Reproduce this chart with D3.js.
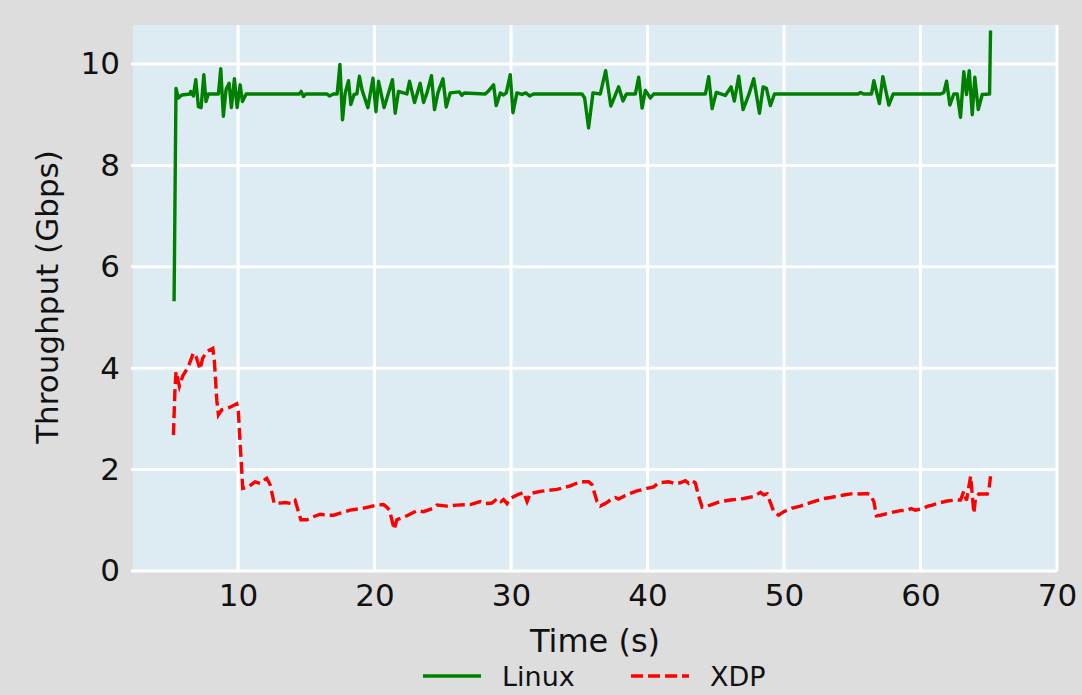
<!DOCTYPE html>
<html>
<head>
<meta charset="utf-8">
<script src="https://cdn.jsdelivr.net/npm/d3@7"></script>
<style>
  body { margin: 0; background: #dddddd; }
  svg { display: block; font-family: "DejaVu Sans", sans-serif; }
</style>
</head>
<body>
<script>
// throughput samples (time in s, Gbps)
var linuxTime = [5.31, 5.45, 5.62, 5.87, 6.48, 6.53, 6.72, 6.90, 7.09, 7.29, 7.49, 7.65, 7.82, 8.56, 8.73, 8.92, 9.12, 9.34, 9.51, 9.73, 9.93, 10.15, 10.32, 10.59,
  14.49, 14.62, 14.79, 14.96, 16.50, 16.69, 16.99, 17.26, 17.46, 17.65, 17.84, 18.09, 18.26, 18.50, 18.70, 18.89, 19.09, 19.51, 19.88, 20.10, 20.29, 20.70, 21.31, 21.51, 21.75,
  22.37, 22.56, 22.93, 23.34, 23.59, 23.86, 24.17, 24.39, 24.64, 25.01, 25.25, 25.54, 26.22, 26.40, 26.57, 28.11, 28.35, 28.72, 28.91, 29.21, 29.45, 29.65, 29.94, 30.14, 30.43,
  30.80, 31.09, 31.36, 31.65, 35.20, 35.39, 35.68, 36.00, 36.54, 36.93, 37.31, 37.88, 38.20, 38.45, 39.11, 39.35, 39.60, 39.84, 40.21, 40.45,
  44.24, 44.48, 44.73, 45.04, 45.70, 46.12, 46.36, 46.68, 47.00, 47.41, 47.78, 48.20, 48.47, 48.71, 49.00, 49.30,
  55.45, 55.60, 55.82, 56.41, 56.58, 56.99, 57.24, 57.68, 58.00, 61.47, 61.71, 61.91, 62.15, 62.44, 62.69, 62.93, 63.17, 63.37, 63.57, 63.79, 63.98, 64.23, 64.52, 65.06, 65.13];
var linuxGbps = [5.32, 9.52, 9.33, 9.39, 9.41, 9.46, 9.37, 9.69, 9.16, 9.14, 9.79, 9.26, 9.41, 9.41, 9.91, 8.97, 9.50, 9.62, 9.14, 9.71, 9.14, 9.59, 9.26, 9.41,
  9.41, 9.46, 9.36, 9.41, 9.41, 9.37, 9.41, 9.41, 9.99, 8.90, 9.42, 9.67, 9.20, 9.40, 9.41, 9.76, 9.48, 9.14, 9.72, 9.06, 9.66, 9.14, 9.69, 9.03, 9.46,
  9.41, 9.66, 9.24, 9.62, 9.24, 9.45, 9.77, 9.10, 9.43, 9.71, 9.15, 9.43, 9.45, 9.38, 9.43, 9.41, 9.47, 9.59, 9.18, 9.43, 9.39, 9.43, 9.79, 9.04, 9.43,
  9.40, 9.43, 9.37, 9.41, 9.41, 9.33, 8.74, 9.43, 9.41, 9.87, 9.17, 9.55, 9.27, 9.41, 9.41, 9.74, 9.13, 9.48, 9.33, 9.41,
  9.41, 9.75, 9.12, 9.44, 9.38, 9.55, 9.27, 9.76, 9.10, 9.39, 9.71, 9.03, 9.55, 9.52, 9.18, 9.41,
  9.41, 9.44, 9.41, 9.41, 9.67, 9.22, 9.75, 9.19, 9.41, 9.41, 9.44, 9.66, 9.19, 9.41, 9.41, 8.95, 9.85, 9.40, 9.87, 9.00, 9.74, 9.10, 9.40, 9.41, 10.66];

var xdpTime = [5.26, 5.38, 5.45, 5.70, 5.95, 6.36, 6.72, 6.92, 7.21, 7.41, 7.71, 8.15, 8.26, 8.44, 8.56, 8.80, 9.41, 9.90, 10.02, 10.34, 10.76, 11.25, 11.61, 12.10, 12.35,
  12.64, 13.08, 13.45, 13.94, 14.18, 14.60, 15.04, 15.52, 16.01, 16.50, 17.00, 17.48, 18.21, 19.19, 19.68, 20.17, 20.65, 20.85, 21.09, 21.44, 21.63, 22.37, 23.10, 23.59,
  24.32, 24.57, 25.30, 26.03, 27.01, 27.74, 28.11, 28.60, 29.01, 29.26, 29.45, 29.70, 29.94, 30.43, 30.92, 31.17, 31.41, 32.14, 33.37, 34.34, 35.07, 35.68, 35.93, 36.30,
  36.54, 37.03, 37.40, 37.64, 37.88, 38.37, 38.74, 39.23, 39.96, 40.45, 40.81, 41.55, 42.04, 42.40, 42.77, 43.01, 43.26, 43.50, 43.75, 44.00, 44.60, 45.34, 46.07, 47.05,
  47.78, 48.27, 48.51, 48.76, 49.25, 49.61, 49.98, 50.59, 51.20, 51.94, 52.91, 53.40, 54.38, 55.11, 55.60, 56.09, 56.33, 56.58, 56.77, 57.07, 57.80, 58.53, 59.03, 59.32,
  59.63, 60.24, 60.54, 60.86, 61.47, 61.96, 62.57, 62.93, 63.17, 63.37, 63.67, 63.91, 64.03, 64.27, 64.89, 65.01, 65.13];
var xdpGbps = [2.68, 3.61, 3.93, 3.64, 3.85, 4.03, 4.30, 4.23, 3.98, 4.20, 4.33, 4.39, 4.16, 3.37, 3.08, 3.18, 3.23, 3.30, 3.14, 1.63, 1.66, 1.76, 1.73, 1.83, 1.70,
  1.34, 1.34, 1.35, 1.33, 1.39, 1.01, 1.01, 1.07, 1.12, 1.10, 1.10, 1.14, 1.20, 1.24, 1.27, 1.30, 1.31, 1.27, 1.20, 0.82, 1.01, 1.09, 1.19, 1.17,
  1.24, 1.30, 1.28, 1.30, 1.31, 1.37, 1.33, 1.34, 1.43, 1.37, 1.41, 1.33, 1.43, 1.50, 1.55, 1.37, 1.53, 1.57, 1.61, 1.68, 1.76, 1.76, 1.70, 1.37,
  1.28, 1.35, 1.43, 1.45, 1.42, 1.49, 1.53, 1.58, 1.63, 1.66, 1.74, 1.76, 1.72, 1.74, 1.78, 1.73, 1.78, 1.74, 1.47, 1.26, 1.30, 1.37, 1.40, 1.43,
  1.47, 1.55, 1.50, 1.52, 1.17, 1.10, 1.17, 1.24, 1.28, 1.35, 1.43, 1.45, 1.50, 1.53, 1.52, 1.53, 1.50, 1.37, 1.09, 1.10, 1.15, 1.19, 1.20, 1.23,
  1.20, 1.24, 1.28, 1.30, 1.35, 1.38, 1.40, 1.40, 1.57, 1.39, 1.87, 1.14, 1.43, 1.52, 1.52, 1.60, 1.87];

var xTicks = [10, 20, 30, 40, 50, 60, 70];
var yTicks = [0, 2, 4, 6, 8, 10];
var seriesNames = ['Linux', 'XDP'];

var w = 1082;
var h = 695;
var plotLeft = 133, plotRight = 1057, plotTop = 25, plotBottom = 571;

var xScale = d3.scaleLinear().domain([2.3, 70]).range([plotLeft, plotRight]);
var yScale = d3.scaleLinear().domain([0, 10.77]).range([plotBottom, plotTop]);

var svg = d3.select('body')
  .append('svg')
  .attr('width', w)
  .attr('height', h);

svg.append('rect')
  .attr('x', plotLeft)
  .attr('y', plotTop)
  .attr('width', plotRight - plotLeft)
  .attr('height', plotBottom - plotTop)
  .attr('fill', '#ddecf3');

// grid
svg.append('g')
  .selectAll('line')
  .data(xTicks)
  .enter()
  .append('line')
  .attr('x1', function(d){ return xScale(d); })
  .attr('x2', function(d){ return xScale(d); })
  .attr('y1', plotTop)
  .attr('y2', plotBottom)
  .attr('stroke', 'white')
  .attr('stroke-width', 3);

svg.append('g')
  .selectAll('line')
  .data(yTicks)
  .enter()
  .append('line')
  .attr('x1', plotLeft - 2)
  .attr('x2', plotRight)
  .attr('y1', function(d){ return yScale(d); })
  .attr('y2', function(d){ return yScale(d); })
  .attr('stroke', 'white')
  .attr('stroke-width', 3);

// axes (labels only)
var xAxis = d3.axisBottom(xScale).tickValues(xTicks).tickSize(0).tickPadding(13);
var yAxis = d3.axisLeft(yScale).tickValues(yTicks).tickSize(0).tickPadding(13);

var gx = svg.append('g')
  .attr('transform', 'translate(0,' + plotBottom + ')')
  .call(xAxis);
var gy = svg.append('g')
  .attr('transform', 'translate(' + plotLeft + ',0)')
  .call(yAxis);

[gx, gy].forEach(function(g){
  g.select('.domain').remove();
  g.selectAll('text')
    .attr('font-family', '"DejaVu Sans", sans-serif')
    .attr('font-size', '31px')
    .attr('fill', '#111');
});

var line = d3.line()
  .x(function(d){ return xScale(d[0]); })
  .y(function(d){ return yScale(d[1]); });

var linuxData = d3.zip(linuxTime, linuxGbps);
var xdpData = d3.zip(xdpTime, xdpGbps);

svg.append('path')
  .datum(linuxData)
  .attr('d', line)
  .attr('fill', 'none')
  .attr('stroke', '#008000')
  .attr('stroke-width', 3.4)
  .attr('stroke-linejoin', 'round');

svg.append('path')
  .datum(xdpData)
  .attr('d', line)
  .attr('fill', 'none')
  .attr('stroke', '#ff0000')
  .attr('stroke-width', 3.4)
  .attr('stroke-dasharray', '12,5');

// axis titles
svg.append('text')
  .text('Time (s)')
  .attr('x', (plotLeft + plotRight) / 2)
  .attr('y', 652)
  .attr('text-anchor', 'middle')
  .attr('font-size', '32px')
  .attr('fill', '#111');

svg.append('text')
  .text('Throughput (Gbps)')
  .attr('transform', 'translate(58,' + 297 + ') rotate(-90)')
  .attr('text-anchor', 'middle')
  .attr('font-size', '31px')
  .attr('fill', '#111');

// legend
var legend = svg.append('g');
var legX = [423, 631];
seriesNames.forEach(function(name, i){
  legend.append('line')
    .attr('x1', legX[i])
    .attr('x2', legX[i] + 58)
    .attr('y1', 676)
    .attr('y2', 676)
    .attr('stroke', i == 0 ? '#008000' : '#ff0000')
    .attr('stroke-width', 3.4)
    .attr('stroke-dasharray', i == 0 ? null : '12,5');
  legend.append('text')
    .text(name)
    .attr('x', legX[i] + 79)
    .attr('y', 686)
    .attr('font-size', '27px')
    .attr('fill', '#111');
});
</script>
</body>
</html>
